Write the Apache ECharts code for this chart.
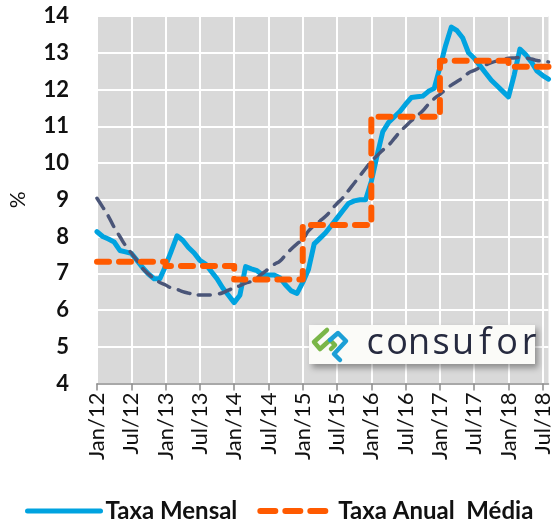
<!DOCTYPE html>
<html>
<head>
<meta charset="utf-8">
<script src="https://cdn.jsdelivr.net/npm/echarts@6/dist/echarts.min.js"></script>
<style>
  html, body { margin: 0; padding: 0; background: #fff; }
  #chart { width: 558px; height: 523px; }
</style>
</head>
<body>
<div id="chart"></div>
<script>
// Month labels (pt-BR) and years covered
const monthNames = ['Jan', 'Fev', 'Mar', 'Abr', 'Mai', 'Jun', 'Jul', 'Ago', 'Set', 'Out', 'Nov', 'Dez'];
const years = ['12', '13', '14', '15', '16', '17', '18'];

// Taxa Mensal, Jan/12 .. Ago/18
const taxaMensal = [
  8.13, 8.0, 7.93, 7.85, 7.62, 7.58, 7.54, 7.35, 7.15, 6.98, 6.85, 6.85,
  7.2, 7.6, 8.02, 7.9, 7.7, 7.55, 7.35, 7.25, 7.05, 6.85, 6.6, 6.4,
  6.2, 6.4, 7.18, 7.12, 7.07, 6.95, 6.95, 6.95, 6.88, 6.68, 6.52, 6.45,
  6.75, 7.1, 7.8, 7.95, 8.1, 8.3, 8.5, 8.7, 8.9, 8.97, 9.0, 9.0,
  9.5, 10.2, 10.85, 11.1, 11.25, 11.4, 11.6, 11.78, 11.8, 11.82, 11.95, 12.03,
  12.6, 13.2, 13.7, 13.6, 13.4, 13.0, 12.85, 12.65, 12.45, 12.25, 12.1, 11.95,
  11.8, 12.4, 13.1, 12.95, 12.75, 12.5, 12.38, 12.28
];

// Taxa Anual Média, one value per year
const taxaAnualMedia = [7.31, 7.2, 6.83, 8.31, 11.26, 12.78, 12.62];

// trend line (no legend entry)
const tendencia = [
  9.04, 8.8, 8.55, 8.25, 8.0, 7.75, 7.55, 7.35, 7.13, 6.98, 6.85, 6.75,
  6.68, 6.6, 6.56, 6.5, 6.46, 6.43, 6.41, 6.41, 6.41, 6.43, 6.47, 6.54,
  6.6, 6.66, 6.73, 6.78, 6.88, 7.0, 7.12, 7.24, 7.33, 7.5, 7.66, 7.8,
  7.92, 8.15, 8.3, 8.42, 8.55, 8.72, 8.9, 9.05, 9.25, 9.45, 9.65, 9.85,
  10.05, 10.2, 10.35, 10.48, 10.66, 10.85, 11.0, 11.15, 11.28, 11.42, 11.6, 11.75,
  11.87, 12.0, 12.12, 12.22, 12.32, 12.45, 12.52, 12.6, 12.67, 12.73, 12.78, 12.82,
  12.85, 12.86, 12.87, 12.86, 12.83, 12.79, 12.77, 12.75
];

const categories = [];
const anualSeries = [];
years.forEach((y, yi) => {
  monthNames.forEach(m => {
    if (categories.length < taxaMensal.length) {
      categories.push(m + '/' + y);
      anualSeries.push(taxaAnualMedia[yi]);
    }
  });
});

const chart = echarts.init(document.getElementById('chart'));
const font = 'Lato, "Open Sans", sans-serif';

// logo letters placed one by one (centred) to get the wide spacing
const logoLetters = 'consufor'.split('').map((ch, i) => ({
  type: 'text',
  x: 375 + i * 22, y: 344,
  z: 102,
  style: {
    text: ch, fill: '#262a3f', align: 'center', verticalAlign: 'middle',
    font: '36px "Open Sans", sans-serif'
  }
}));

chart.setOption({
  animation: false,
  grid: {
    left: 96, right: 9.5, top: 16, bottom: 139.5,
    show: true, backgroundColor: '#d9d9d9', borderWidth: 0
  },
  legend: {
    data: [
      { name: 'Taxa Mensal', lineStyle: { width: 5 }, itemStyle: { opacity: 0 } },
      { name: 'Taxa Anual  Média', lineStyle: { width: 6, type: [15, 10] }, itemStyle: { opacity: 0 } }
    ],
    left: 20, top: 494,
    itemWidth: 73, itemHeight: 14, itemGap: 20,
    textStyle: { fontFamily: font, fontSize: 24, fontWeight: 'bold', color: '#111' }
  },
  xAxis: {
    type: 'category',
    data: categories,
    boundaryGap: false,
    axisLine: { lineStyle: { color: '#8c8c8c', width: 1.5 } },
    axisTick: { interval: 5, length: 7, lineStyle: { color: '#8c8c8c', width: 1.5 } },
    axisLabel: {
      interval: 5, rotate: 90, margin: 9,
      fontFamily: font, fontSize: 22, color: '#111'
    },
    splitLine: { show: true, interval: 5, lineStyle: { color: '#fff', width: 2 } }
  },
  yAxis: {
    type: 'value',
    min: 4, max: 14, interval: 1,
    name: '%', nameLocation: 'middle', nameGap: 68, nameRotate: 90,
    nameTextStyle: { fontFamily: font, fontSize: 21, color: '#111' },
    axisLine: { show: false },
    axisTick: { show: false },
    axisLabel: { margin: 28, fontFamily: font, fontSize: 22, fontWeight: 'bold', color: '#111' },
    splitLine: { show: true, lineStyle: { color: '#fff', width: 2 } }
  },
  series: [
    {
      name: 'Taxa Mensal',
      type: 'line',
      data: taxaMensal,
      symbol: 'none',
      color: '#00a3e0',
      lineStyle: { width: 5, color: '#00a3e0', cap: 'round', join: 'round' },
      z: 3
    },
    {
      name: 'Tendência',
      type: 'line',
      data: tendencia,
      symbol: 'none',
      smooth: true,
      color: '#4a5578',
      lineStyle: { width: 3.5, color: '#4a5578', type: [12, 9], cap: 'round' },
      z: 4
    },
    {
      name: 'Taxa Anual  Média',
      type: 'line',
      data: anualSeries,
      step: 'end',
      symbol: 'none',
      color: '#ff5a00',
      lineStyle: { width: 6, color: '#ff5a00', type: [12, 10], cap: 'round', join: 'round' },
      z: 5
    }
  ],
  graphic: [
    {
      type: 'rect',
      left: 309, top: 325, z: 100,
      shape: { width: 226, height: 39 },
      style: {
        fill: '#fbfbf8',
        shadowBlur: 6, shadowOffsetX: 3, shadowOffsetY: 4,
        shadowColor: 'rgba(0,0,0,0.35)'
      }
    },
    {
      type: 'polyline', z: 101,
      shape: { points: [[327, 330], [314, 342], [320, 349], [330, 340], [335, 345], [331, 349]] },
      style: { stroke: '#7ab648', lineWidth: 4.5, fill: null, lineCap: 'round', lineJoin: 'round' }
    },
    {
      type: 'polyline', z: 101,
      shape: { points: [[330, 340], [338, 333], [346, 341], [334, 354], [340, 360]] },
      style: { stroke: '#1c9fd6', lineWidth: 4.5, fill: null, lineCap: 'round', lineJoin: 'round' }
    }
  ].concat(logoLetters)
});
</script>
</body>
</html>
